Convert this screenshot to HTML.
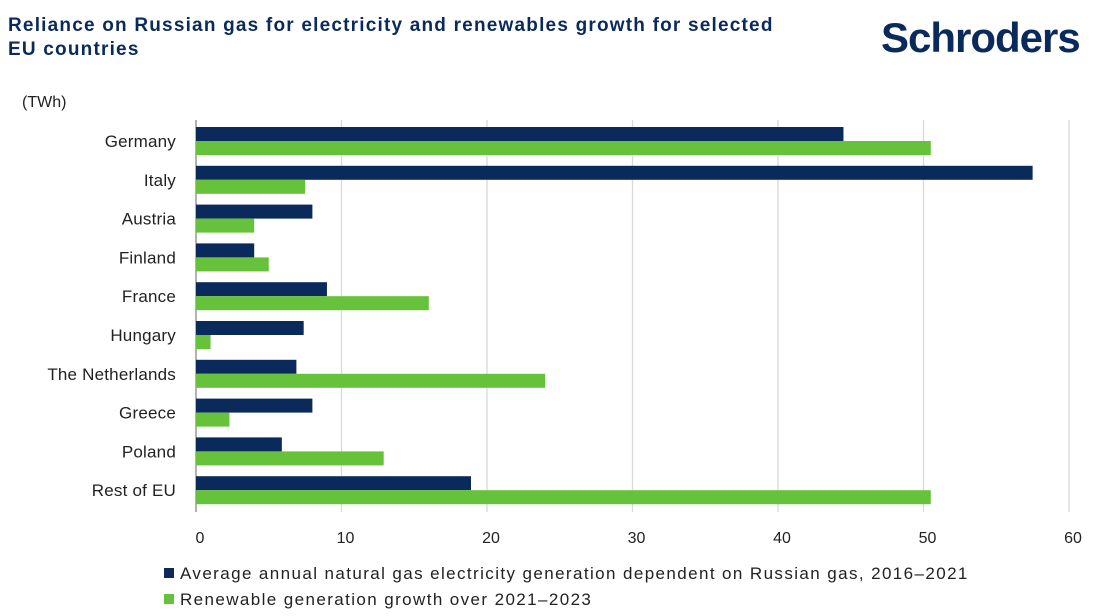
<!DOCTYPE html>
<html><head><meta charset="utf-8"><style>
body{margin:0;width:1101px;height:616px;background:#fff;font-family:"Liberation Sans",sans-serif;overflow:hidden;position:relative}
.t{position:absolute;left:8px;top:14px;color:#0a2a5c;font-weight:bold;font-size:19px;letter-spacing:1.2px;line-height:24px}
.logo{position:absolute;left:881px;top:14px;color:#0a2a5c;font-weight:bold;font-size:42px;letter-spacing:-1px}
</style></head><body>
<div class="t">Reliance on Russian gas for electricity and renewables growth for selected<br>EU countries</div>
<div class="logo">Schroders</div>
<svg id="c" width="1101" height="616" style="position:absolute;left:0;top:0"></svg>
<script>
const categories=["Germany","Italy","Austria","Finland","France","Hungary","The Netherlands","Greece","Poland","Rest of EU"];
const gasValues=[44.5,57.5,8.0,4.0,9.0,7.4,6.9,8.0,5.9,18.9];
const renewValues=[50.5,7.5,4.0,5.0,16.0,1.0,24.0,2.3,12.9,50.5];
const ticks=[0,10,20,30,40,50,60];
const NS="http://www.w3.org/2000/svg";
const svg=document.getElementById('c');
const x0=196,pxPer=14.55,yTop=127,pitch=38.8,bh=14;
const xs=v=>x0+v*pxPer;
function mk(t,a){const e=document.createElementNS(NS,t);for(const k in a)e.setAttribute(k,a[k]);svg.appendChild(e);return e;}
let yl=mk('text',{x:22,y:107,'font-size':16,fill:'#222'});yl.textContent='(TWh)';


ticks.forEach(t=>{
 const g=mk('line',{x1:xs(t),x2:xs(t),y1:120,y2:512,stroke:t===0?'#888':'#d9d9d9','stroke-width':1.3});
 
 
 const l=mk('text',{x:xs(t)+4,y:543,'font-size':16,fill:'#222','text-anchor':'middle'});l.textContent=t;
 
 
});
categories.forEach((c,i)=>{
 const y=yTop+i*pitch;
 const l=mk('text',{x:176,y:y+20,'font-size':17,fill:'#222','text-anchor':'end','letter-spacing':'0.2'});l.textContent=c;
 
 
 const a=mk('rect',{x:x0,y:y,width:xs(gasValues[i])-x0,height:bh,fill:'#0a2a5c'});
 
 
 const b=mk('rect',{x:x0,y:y+bh,width:xs(renewValues[i])-x0,height:bh,fill:'#66c23a'});
 
 
});
const leg=[["#0a2a5c","Average annual natural gas electricity generation dependent on Russian gas, 2016–2021",579],["#66c23a","Renewable generation growth over 2021–2023",605]];
leg.forEach((d,i)=>{
 const r=mk('rect',{x:164,y:d[2]-11,width:10,height:10,fill:d[0]});
 
 
 const t=mk('text',{x:180,y:d[2],'font-size':17,fill:'#222','letter-spacing':'1.4'});t.textContent=d[1];
 
 
});
</script>
</body></html>
